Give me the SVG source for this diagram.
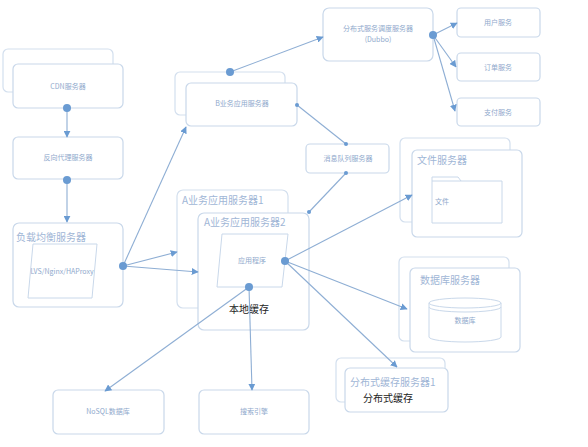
<svg xmlns="http://www.w3.org/2000/svg" width="588" height="447" viewBox="0 0 588 447">
<style>
.bx{fill:#fff;stroke:#c9d8ea;stroke-width:1.2}
.sh{fill:#fff;stroke:#d3dfee;stroke-width:1.2}
.t{font-family:"Noto Sans CJK SC","Noto Sans",sans-serif;font-size:7px;fill:#8fa9cc;text-anchor:middle}
.h{font-family:"Noto Sans CJK SC","Noto Sans",sans-serif;font-size:10px;fill:#9fb6d6}
.k{font-family:"Noto Sans CJK SC","Noto Sans",sans-serif;font-size:10px;fill:#222;text-anchor:middle}
.c{stroke:#8eaed4;stroke-width:1.1;fill:none}
.a{marker-end:url(#ar)}
.d{fill:#6a9bd2}
</style>
<defs>
<marker id="ar" viewBox="0 0 10 10" refX="9" refY="5" markerWidth="7" markerHeight="7" orient="auto" markerUnits="userSpaceOnUse">
<path d="M0,0 L10,5 L0,10 z" fill="#6a9bd2"/>
</marker>
</defs>
<rect width="588" height="447" fill="#fff"/>

<g id="cdn">
<rect class="sh" x="3" y="49" width="110" height="43" rx="5"/>
<rect class="bx" x="13" y="64" width="110" height="44" rx="5"/>
<text class="t" x="68" y="89">CDN服务器</text>
</g>
<g id="proxy">
<rect class="bx" x="13" y="137" width="110" height="42" rx="5"/>
<text class="t" x="68" y="160">反向代理服务器</text>
</g>
<g id="lb">
<rect class="bx" x="13" y="223" width="110" height="84" rx="6"/>
<text class="h" x="16" y="241">负载均衡服务器</text>
<polygon points="33,244 97,244 92,298 28,298" fill="#fff" stroke="#c9d8ea" stroke-width="1"/>
<text class="t" x="62" y="274">LVS/Nginx/HAProxy</text>
</g>
<g id="bapp">
<rect class="sh" x="175" y="72" width="110" height="43" rx="5"/>
<rect class="bx" x="186" y="83" width="111" height="43" rx="5"/>
<text class="t" x="242" y="106">B业务应用服务器</text>
</g>
<g id="dubbo">
<rect class="bx" x="323" y="8" width="110" height="53" rx="6"/>
<text class="t" x="378" y="31">分布式服务调度服务器</text>
<text class="t" x="378" y="42">(Dubbo)</text>
</g>
<g id="user">
<rect class="bx" x="457" y="8" width="83" height="29" rx="4"/>
<text class="t" x="498" y="25">用户服务</text>
</g>
<g id="order">
<rect class="bx" x="457" y="53" width="83" height="28" rx="4"/>
<text class="t" x="498" y="70">订单服务</text>
</g>
<g id="pay">
<rect class="bx" x="457" y="98" width="83" height="28" rx="4"/>
<text class="t" x="498" y="115">支付服务</text>
</g>
<g id="mq">
<rect class="bx" x="306" y="144" width="83" height="29" rx="4"/>
<text class="t" x="348" y="161">消息队列服务器</text>
</g>
<g id="file">
<rect class="sh" x="400" y="138" width="110" height="84" rx="5"/>
<rect class="bx" x="412" y="150" width="110" height="87" rx="5"/>
<text class="h" x="417" y="164">文件服务器</text>
<path d="M432,223 V177 H458 L461,181 H502 V223 Z" fill="#fff" stroke="#c9d8ea" stroke-width="1"/>
<line x1="432" y1="181" x2="461" y2="181" stroke="#c9d8ea" stroke-width="1"/>
<text class="t" x="442" y="204">文件</text>
</g>
<g id="db">
<rect class="sh" x="399" y="257" width="110" height="84" rx="5"/>
<rect class="bx" x="410" y="268" width="110" height="84" rx="5"/>
<text class="h" x="420" y="284">数据库服务器</text>
<path d="M429,303 V337 A36,5 0 0 0 501,337 V303" fill="#fff" stroke="#c9d8ea" stroke-width="1"/>
<ellipse cx="465" cy="303" rx="36" ry="5" fill="#fff" stroke="#c9d8ea" stroke-width="1"/>
<path d="M429,307 A36,5 0 0 0 501,307" fill="none" stroke="#c9d8ea" stroke-width="1"/>
<text class="t" x="465" y="323">数据库</text>
</g>
<g id="a1">
<rect class="sh" x="177" y="190" width="111" height="118" rx="6"/>
<text class="h" x="182" y="204">A业务应用服务器1</text>
</g>
<g id="a2">
<rect class="bx" x="198" y="213" width="111" height="117" rx="6"/>
<text class="h" x="204" y="226">A业务应用服务器2</text>
<polygon points="222,234 288,234 282,287 217,287" fill="#fff" stroke="#c9d8ea" stroke-width="1"/>
<text class="t" x="252" y="263">应用程序</text>
<text class="k" x="249" y="313">本地缓存</text>
</g>
<g id="cache">
<rect class="sh" x="336" y="358" width="109" height="44" rx="5"/>
<rect class="bx" x="345" y="368" width="103" height="44" rx="5"/>
<text class="h" x="350" y="386" style="font-size:10px">分布式缓存服务器1</text>
<text class="k" x="388" y="402">分布式缓存</text>
</g>
<g id="nosql">
<rect class="bx" x="53" y="390" width="111" height="44" rx="5"/>
<text class="t" x="108" y="414">NoSQL数据库</text>
</g>
<g id="search">
<rect class="bx" x="199" y="390" width="110" height="44" rx="5"/>
<text class="t" x="254" y="414">搜索引擎</text>
</g>

<g id="connectors">
<line class="c a" x1="67" y1="108" x2="67" y2="137"/>
<line class="c a" x1="67" y1="180" x2="67" y2="222"/>
<line class="c a" x1="123" y1="266" x2="186" y2="127"/>
<line class="c a" x1="123" y1="266" x2="177" y2="252"/>
<line class="c a" x1="123" y1="266" x2="198" y2="272"/>
<line class="c a" x1="230" y1="72" x2="323" y2="37"/>
<line class="c a" x1="433" y1="35" x2="457" y2="23"/>
<line class="c a" x1="433" y1="35" x2="456" y2="67"/>
<line class="c a" x1="433" y1="35" x2="455" y2="111"/>
<line class="c" x1="297" y1="105" x2="346" y2="144"/>
<line class="c" x1="346" y1="173" x2="309" y2="212"/>
<line class="c a" x1="285" y1="261" x2="412" y2="195"/>
<line class="c a" x1="285" y1="261" x2="407" y2="309"/>
<line class="c a" x1="285" y1="261" x2="397" y2="367"/>
<line class="c a" x1="249" y1="287" x2="105" y2="391"/>
<line class="c a" x1="249" y1="287" x2="252" y2="390"/>
<circle class="d" cx="67" cy="108" r="4"/>
<circle class="d" cx="67" cy="180" r="4"/>
<circle class="d" cx="123" cy="266" r="4"/>
<circle class="d" cx="230" cy="72" r="4"/>
<circle class="d" cx="433" cy="35" r="4"/>
<circle class="d" cx="297" cy="105" r="2"/>
<circle class="d" cx="346" cy="144" r="2"/>
<circle class="d" cx="346" cy="173" r="2"/>
<circle class="d" cx="309" cy="212" r="2"/>
<circle class="d" cx="285" cy="261" r="4"/>
<circle class="d" cx="249" cy="287" r="4"/>
</g>
</svg>
